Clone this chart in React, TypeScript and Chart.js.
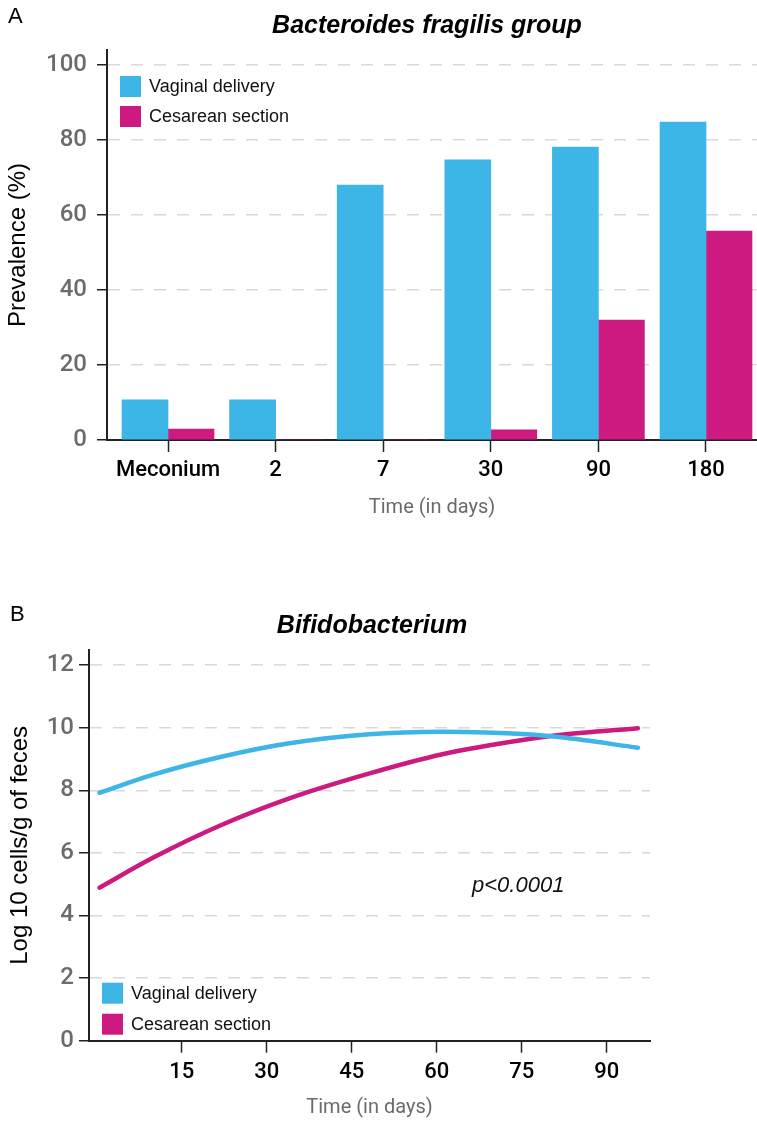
import React, { useEffect, useRef } from 'react';
import { Chart, registerables } from 'chart.js';

Chart.register(...registerables);

const FONT = '"Liberation Sans", Arial, Helvetica, sans-serif';
const TICK_FONT = 'Roboto, "Liberation Sans", Arial, sans-serif';
const BLUE = '#3db5e6';
const PINK = '#cd1a80';
const AXIS = '#222222';
const GRID = '#d9d9d9';
const GREY_TEXT = '#6b6b6b';

// ---------- Panel A: Bacteroides fragilis group ----------
const timepoints = ['Meconium', '2', '7', '30', '90', '180'];
const vaginalPrevalence = [10.7, 10.7, 68, 74.7, 78.1, 84.8];
const cesareanPrevalence = [2.9, 0, 0, 2.7, 32, 55.7];
const prevalenceTicks = [0, 20, 40, 60, 80, 100];

// ---------- Panel B: Bifidobacterium ----------
const curveDays = [0.5, 10, 22, 34, 48, 61, 76, 82, 95.5];
const vaginalLog = [7.92, 8.5, 9.07, 9.5, 9.79, 9.87, 9.79, 9.69, 9.36];
const cesareanLog = [4.89, 5.85, 6.89, 7.74, 8.53, 9.15, 9.63, 9.77, 9.98];
const dayTicks = [15, 30, 45, 60, 75, 90];
const logTicks = [0, 2, 4, 6, 8, 10, 12];

const seriesLabels = ['Vaginal delivery', 'Cesarean section'];

type Decor = {
  letter: string;
  letterX: number;
  letterY: number;
  title: string;
  titleX: number;
  titleY: number;
  legendDx: number;
  legendTop: (area: any) => number;
  legendGap: number;
  note?: { text: string; x: number; y: number };
};

function decorPlugin(d: Decor) {
  return {
    id: 'decor',
    afterDraw(chart: any) {
      const { ctx, chartArea } = chart;
      ctx.save();
      ctx.fillStyle = '#000';
      ctx.textAlign = 'left';
      ctx.textBaseline = 'alphabetic';
      ctx.font = `22px ${FONT}`;
      ctx.fillText(d.letter, d.letterX, d.letterY);

      ctx.font = `italic bold 25px ${FONT}`;
      ctx.textAlign = 'center';
      ctx.fillText(d.title, d.titleX, d.titleY);

      // legend
      const box = 21;
      const lx = chartArea.left + d.legendDx;
      let ly = d.legendTop(chartArea);
      ctx.font = `18px ${FONT}`;
      ctx.textAlign = 'left';
      ctx.textBaseline = 'middle';
      chart.data.datasets.forEach((ds: any) => {
        ctx.fillStyle = ds.backgroundColor;
        ctx.fillRect(lx, ly, box, box);
        ctx.fillStyle = '#111';
        ctx.fillText(ds.label, lx + box + 8, ly + box / 2 + 1);
        ly += d.legendGap;
      });

      if (d.note) {
        ctx.font = `italic 22px ${FONT}`;
        ctx.textBaseline = 'alphabetic';
        ctx.fillStyle = '#111';
        ctx.fillText(d.note.text, d.note.x, d.note.y);
      }
      ctx.restore();
    },
  };
}

function yGrid() {
  return {
    color: (c: any) => (c.tick && c.tick.value === 0 ? 'rgba(0,0,0,0)' : GRID),
    lineWidth: 1.5,
    tickColor: AXIS,
    tickWidth: 1.5,
    tickLength: 10,
    tickBorderDash: [],
    drawTicks: true,
  };
}

function buildConfigA(): any {
  return {
    type: 'bar',
    data: {
      datasets: [
        {
          label: seriesLabels[0],
          data: timepoints.map((_, i) => ({ x: i, y: vaginalPrevalence[i] })),
          backgroundColor: BLUE,
          borderWidth: 0,
          barThickness: 46,
        },
        {
          label: seriesLabels[1],
          data: timepoints.map((_, i) => ({ x: i, y: cesareanPrevalence[i] })),
          backgroundColor: PINK,
          borderWidth: 0,
          barThickness: 46,
        },
      ],
    },
    options: {
      responsive: false,
      animation: false,
      devicePixelRatio: 1,
      layout: { padding: { top: 50, left: 0, right: 0, bottom: 0 } },
      plugins: { legend: { display: false }, title: { display: false }, tooltip: { enabled: false } },
      scales: {
        x: {
          type: 'linear',
          min: -0.567,
          max: 5.474,
          offset: false,
          afterBuildTicks: (s: any) => {
            s.ticks = timepoints.map((_, i) => ({ value: i }));
          },
          afterFit: (s: any) => {
            s.height = 100;
          },
          grid: {
            offset: false,
            drawOnChartArea: false,
            drawTicks: true,
            tickLength: 12,
            tickColor: AXIS,
            tickWidth: 1.5,
            color: AXIS,
          },
          border: { display: true, color: AXIS, width: 2 },
          ticks: {
            autoSkip: false,
            maxRotation: 0,
            padding: 5,
            color: '#000',
            font: { family: TICK_FONT, size: 22, weight: '500' },
            callback: (v: any) => timepoints[v] ?? '',
          },
          title: {
            display: true,
            text: 'Time (in days)',
            color: GREY_TEXT,
            font: { family: TICK_FONT, size: 20, weight: '400' },
            padding: { top: 0, bottom: 20 },
          },
        },
        y: {
          type: 'linear',
          min: 0,
          max: 104,
          afterBuildTicks: (s: any) => {
            s.ticks = prevalenceTicks.map((v) => ({ value: v }));
          },
          afterFit: (s: any) => {
            s.width = 107;
          },
          grid: yGrid(),
          border: { display: true, color: AXIS, width: 2, dash: [12, 11] },
          ticks: {
            padding: 10,
            color: GREY_TEXT,
            font: { family: TICK_FONT, size: 24, weight: '500' },
          },
          title: {
            display: true,
            text: 'Prevalence (%)',
            color: '#000',
            font: { family: FONT, size: 24 },
            padding: { top: 4, bottom: 0 },
          },
        },
      },
    },
    plugins: [
      decorPlugin({
        letter: 'A',
        letterX: 8,
        letterY: 23,
        title: 'Bacteroides fragilis group',
        titleX: 427,
        titleY: 33,
        legendDx: 13,
        legendTop: (a: any) => a.top + 26,
        legendGap: 30,
      }),
    ],
  };
}

function buildConfigB(): any {
  return {
    type: 'line',
    data: {
      datasets: [
        {
          label: seriesLabels[0],
          data: curveDays.map((d, i) => ({ x: d, y: vaginalLog[i] })),
          borderColor: BLUE,
          backgroundColor: BLUE,
          borderWidth: 4.5,
          borderCapStyle: 'round',
          pointRadius: 0,
          cubicInterpolationMode: 'monotone',
          fill: false,
        },
        {
          label: seriesLabels[1],
          data: curveDays.map((d, i) => ({ x: d, y: cesareanLog[i] })),
          borderColor: PINK,
          backgroundColor: PINK,
          borderWidth: 4.5,
          borderCapStyle: 'round',
          pointRadius: 0,
          cubicInterpolationMode: 'monotone',
          fill: false,
        },
      ],
    },
    options: {
      responsive: false,
      animation: false,
      devicePixelRatio: 1,
      layout: { padding: { top: 90, left: 0, right: 107, bottom: 0 } },
      plugins: { legend: { display: false }, title: { display: false }, tooltip: { enabled: false } },
      scales: {
        x: {
          type: 'linear',
          min: -1.36,
          max: 97.64,
          afterBuildTicks: (s: any) => {
            s.ticks = dayTicks.map((v) => ({ value: v }));
          },
          afterFit: (s: any) => {
            s.height = 81.3;
          },
          grid: {
            drawOnChartArea: false,
            drawTicks: true,
            tickLength: 12,
            tickColor: AXIS,
            tickWidth: 1.5,
            color: AXIS,
          },
          border: { display: true, color: AXIS, width: 2 },
          ticks: {
            autoSkip: false,
            maxRotation: 0,
            padding: 7,
            color: '#000',
            font: { family: TICK_FONT, size: 22, weight: '500' },
          },
          title: {
            display: true,
            text: 'Time (in days)',
            color: GREY_TEXT,
            font: { family: TICK_FONT, size: 20, weight: '400' },
            padding: { top: 0, bottom: 2 },
          },
        },
        y: {
          type: 'linear',
          min: 0,
          max: 12.48,
          afterBuildTicks: (s: any) => {
            s.ticks = logTicks.map((v) => ({ value: v }));
          },
          afterFit: (s: any) => {
            s.width = 89;
          },
          grid: yGrid(),
          border: { display: true, color: AXIS, width: 2, dash: [12, 11] },
          ticks: {
            padding: 5,
            color: GREY_TEXT,
            font: { family: TICK_FONT, size: 24, weight: '500' },
          },
          title: {
            display: true,
            text: 'Log 10 cells/g of feces',
            color: '#000',
            font: { family: FONT, size: 24 },
            padding: { top: 6, bottom: 0 },
          },
        },
      },
    },
    plugins: [
      decorPlugin({
        letter: 'B',
        letterX: 10,
        letterY: 61,
        title: 'Bifidobacterium',
        titleX: 372,
        titleY: 73,
        legendDx: 13,
        legendTop: (a: any) => a.bottom - 58,
        legendGap: 31,
        note: { text: 'p<0.0001', x: 472, y: 332 },
      }),
    ],
  };
}

function ChartCanvas({ build, top, height }: { build: () => any; top: number; height: number }) {
  const ref = useRef<HTMLCanvasElement>(null);
  useEffect(() => {
    if (!ref.current) return;
    const chart = new Chart(ref.current, build());
    return () => chart.destroy();
  }, [build]);
  return (
    <canvas
      ref={ref}
      width={757}
      height={height}
      style={{ position: 'absolute', left: 0, top, width: 757, height, display: 'block' }}
    />
  );
}

export default function App() {
  return (
    <div style={{ position: 'absolute', left: 0, top: 0, width: 757, height: 1122, background: '#fff', overflow: 'hidden' }}>
      <ChartCanvas build={buildConfigA} top={0} height={540} />
      <ChartCanvas build={buildConfigB} top={560} height={562} />
    </div>
  );
}
